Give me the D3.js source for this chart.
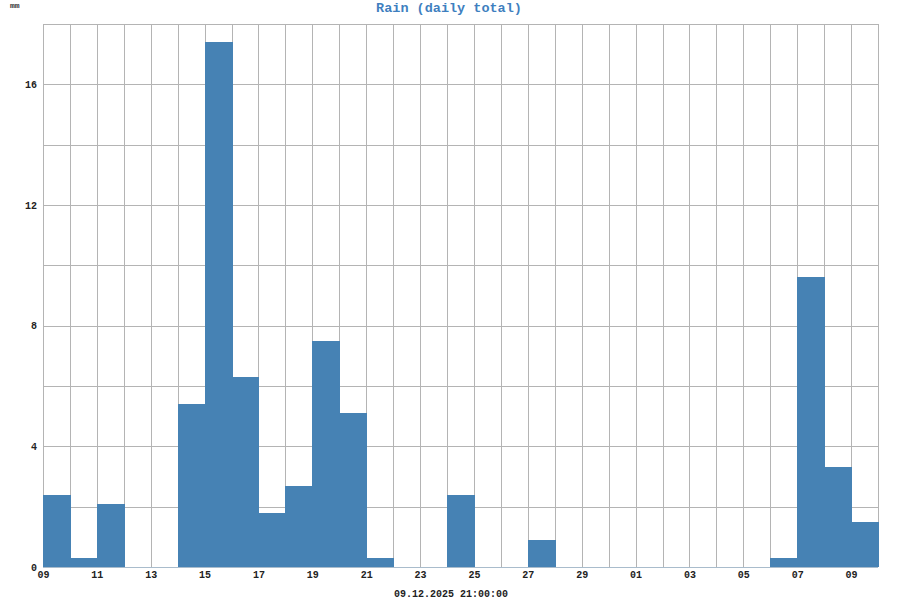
<!DOCTYPE html>
<html>
<head>
<meta charset="utf-8">
<script src="https://cdn.jsdelivr.net/npm/d3@7"></script>
<style>
  body { margin: 0; background: #fff; }
  svg { display: block; }
  text { font-family: "Liberation Mono", "DejaVu Sans Mono", monospace; }
</style>
</head>
<body>
<svg id="chart" width="900" height="600"></svg>
<script>
// Days (start of each daily bar) from 09 Nov to 09 Dec 2025
const startDate = "2025-11-09";
const dayCount = 31;
const rainValues = [2.4, 0.3, 2.1, 0, 0, 5.4, 17.4, 6.3, 1.8, 2.7, 7.5, 5.1, 0.3, 0, 0, 2.4, 0, 0, 0.9,
                    0, 0, 0, 0, 0, 0, 0, 0, 0.3, 9.6, 3.3, 1.5];
const yTickValues = [0, 4, 8, 12, 16];
const yGridValues = [0, 2, 4, 6, 8, 10, 12, 14, 16, 18];
const titleText = "Rain (daily total)";
const unitText = "mm";
const footerText = "09.12.2025 21:00:00";

const svg = d3.select("#chart");
const m = { left: 43, right: 878, top: 24, bottom: 567 };

const t0 = d3.timeParse("%Y-%m-%d")(startDate);
const days = d3.range(dayCount + 1).map(i => d3.timeDay.offset(t0, i));
const data = rainValues.map((v, i) => ({ d0: days[i], d1: days[i + 1], v }));

const x = d3.scaleTime().domain([days[0], days[dayCount]]).range([m.left, m.right]);
const y = d3.scaleLinear().domain([0, 18]).range([m.bottom, m.top]);

// grid
const grid = svg.append("g");
grid.selectAll("line.v").data(days).join("line")
  .attr("x1", d => Math.round(x(d)) + 0.5).attr("x2", d => Math.round(x(d)) + 0.5)
  .attr("y1", m.top).attr("y2", m.bottom)
  .attr("stroke", "#b4b4b4").attr("stroke-width", 1);
grid.selectAll("line.h").data(yGridValues).join("line")
  .attr("x1", m.left).attr("x2", m.right)
  .attr("y1", d => Math.round(y(d)) + 0.5).attr("y2", d => Math.round(y(d)) + 0.5)
  .attr("stroke", "#b4b4b4").attr("stroke-width", 1);

// bars
svg.append("g").selectAll("rect").data(data.filter(d => d.v > 0)).join("rect")
  .attr("x", d => Math.round(x(d.d0)))
  .attr("width", d => Math.round(x(d.d1)) - Math.round(x(d.d0)) + 1)
  .attr("y", d => Math.round(y(d.v)))
  .attr("height", d => Math.round(y(0)) - Math.round(y(d.v)))
  .attr("fill", "#4682b4")
  .attr("shape-rendering", "crispEdges");

// bottom axis line
svg.append("line")
  .attr("x1", m.left).attr("x2", m.right)
  .attr("y1", m.bottom + 0.5).attr("y2", m.bottom + 0.5)
  .attr("stroke", "#a9bccc").attr("stroke-width", 1);

// x axis labels
const xAxis = d3.axisBottom(x)
  .tickValues(days.filter((d, i) => i % 2 === 0))
  .tickFormat(d3.timeFormat("%d"))
  .tickSize(0).tickPadding(4);
const gx = svg.append("g").attr("transform", `translate(0,${m.bottom})`).call(xAxis);
gx.select(".domain").remove();
gx.selectAll("text").attr("font-size", 10).attr("font-weight", "bold").attr("fill", "#222")
  .style("font-family", '"Liberation Mono", monospace');

// y axis labels
const yAxis = d3.axisLeft(y).tickValues(yTickValues).tickFormat(d3.format("d")).tickSize(0).tickPadding(6);
const gy = svg.append("g").attr("transform", `translate(${m.left},0)`).call(yAxis);
gy.select(".domain").remove();
gy.selectAll("text").attr("font-size", 10).attr("font-weight", "bold").attr("fill", "#222")
  .style("font-family", '"Liberation Mono", monospace');

// title
svg.append("text").attr("x", 449).attr("y", 12).attr("text-anchor", "middle")
  .attr("font-size", 13.5).attr("font-weight", "bold").attr("fill", "#3f7fbf")
  .text(titleText);

// unit
svg.append("text").attr("x", 10).attr("y", 8)
  .attr("font-size", 8).attr("font-weight", "bold").attr("fill", "#333")
  .text(unitText);

// footer
svg.append("text").attr("x", 451).attr("y", 597).attr("text-anchor", "middle")
  .attr("font-size", 10).attr("font-weight", "bold").attr("fill", "#222")
  .text(footerText);
</script>
</body>
</html>
